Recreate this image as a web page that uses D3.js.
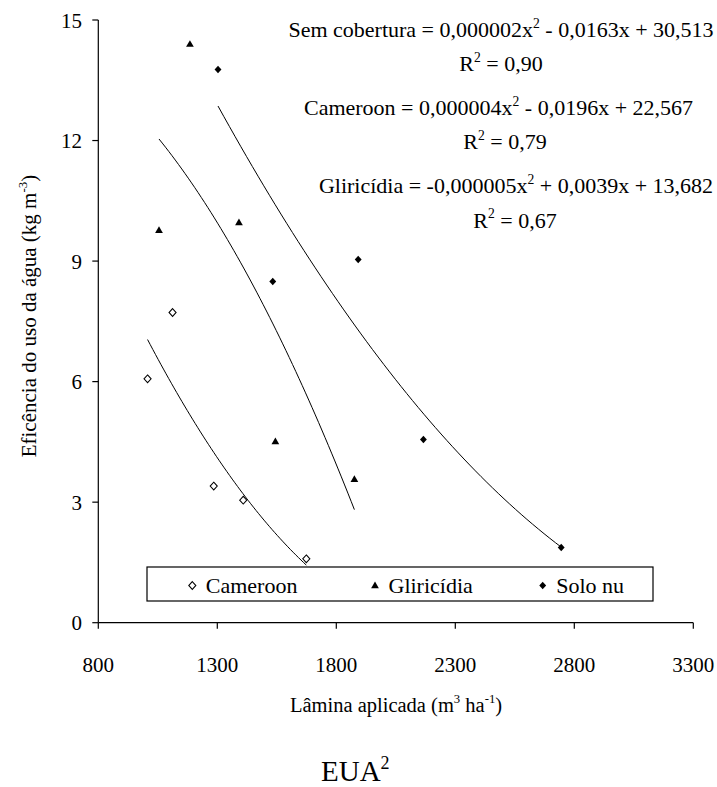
<!DOCTYPE html>
<html>
<head>
<meta charset="utf-8">
<script src="https://cdn.jsdelivr.net/npm/d3@7"></script>
<style>
  body { margin: 0; background: #fff; }
  svg { display: block; }
</style>
</head>
<body>
<div id="root"></div>
<script>
// axis ticks
const xTicks = [800, 1300, 1800, 2300, 2800, 3300];
const yTicks = [0, 3, 6, 9, 12, 15];

// series
const cameroonX = [1007, 1112, 1285, 1409, 1674];
const cameroonY = [6.07, 7.72, 3.40, 3.05, 1.59];
const gliricidiaX = [1055, 1185, 1391, 1544, 1876];
const gliricidiaY = [9.77, 14.40, 9.96, 4.51, 3.57];
const soloNuX = [1303, 1533, 1892, 2166, 2745];
const soloNuY = [13.77, 8.49, 9.04, 4.56, 1.87];

const legendNames = ["Cameroon", "Gliricídia", "Solo nu"];
const eqNames = ["Sem cobertura", "Cameroon", "Gliricídia"];
const eqTerms = [
  ["0,000002x", " - 0,0163x + 30,513"],
  ["0,000004x", " - 0,0196x + 22,567"],
  ["-0,000005x", " + 0,0039x + 13,682"],
];
const eqR2 = ["0,90", "0,79", "0,67"];

const width = 717, height = 787;
const FONT = '"Liberation Serif"';
const x = d3.scaleLinear().domain([800, 3300]).range([98.3, 693.3]);
const y = d3.scaleLinear().domain([0, 15]).range([622.7, 20]);

const svg = d3.create("svg").attr("width", width).attr("height", height);

// helper for text
const label = (g, tx, ty, size, anchor, rot = 0) =>
  g.append("text")
    .attr("transform", `translate(${tx},${ty})` + (rot ? ` rotate(${rot})` : ""))
    .style("font-family", FONT)
    .attr("font-size", size)
    .attr("fill", "#000")
    .attr("text-anchor", anchor);

const sup = (t, s, size) => {
  t.append("tspan").attr("dy", -size * 0.42).attr("font-size", size * 0.62).text(s);
  return t.append("tspan").attr("dy", size * 0.42);
};

// quadratic least squares (Excel trendline)
function polyfit2(xs, ys) {
  const u = xs.map((v) => v / 1000);
  const S = (f) => d3.sum(u, (v, i) => f(v, ys[i]));
  const A = [
    [u.length, S((v) => v), S((v) => v * v)],
    [S((v) => v), S((v) => v * v), S((v) => v ** 3)],
    [S((v) => v * v), S((v) => v ** 3), S((v) => v ** 4)],
  ];
  const b = [S((v, w) => w), S((v, w) => v * w), S((v, w) => v * v * w)];
  // gaussian elimination
  for (let i = 0; i < 3; i++) {
    for (let k = i + 1; k < 3; k++) {
      const f = A[k][i] / A[i][i];
      for (let j = i; j < 3; j++) A[k][j] -= f * A[i][j];
      b[k] -= f * b[i];
    }
  }
  const c = [0, 0, 0];
  for (let i = 2; i >= 0; i--) {
    let s = b[i];
    for (let j = i + 1; j < 3; j++) s -= A[i][j] * c[j];
    c[i] = s / A[i][i];
  }
  return (xv) => c[0] + c[1] * (xv / 1000) + c[2] * (xv / 1000) ** 2;
}

const line = d3.line().x((d) => x(d[0])).y((d) => y(d[1]));
[[cameroonX, cameroonY], [gliricidiaX, gliricidiaY], [soloNuX, soloNuY]].forEach(([xs, ys]) => {
  const f = polyfit2(xs, ys);
  const [lo, hi] = d3.extent(xs);
  const pts = d3.range(0, 61).map((i) => {
    const xv = lo + ((hi - lo) * i) / 60;
    return [xv, f(xv)];
  });
  svg.append("path").attr("d", line(pts)).attr("fill", "none")
    .attr("stroke", "#000").attr("stroke-width", 1);
});

// axes
const ax = svg.append("g").attr("stroke", "#000").attr("stroke-width", 1.2).attr("fill", "none");
ax.append("line").attr("x1", x(800)).attr("x2", x(800)).attr("y1", y(15)).attr("y2", y(0));
ax.append("line").attr("x1", x(800)).attr("x2", x(3300)).attr("y1", y(0)).attr("y2", y(0));
yTicks.forEach((t) => {
  ax.append("line").attr("x1", x(800) - 6).attr("x2", x(800)).attr("y1", y(t)).attr("y2", y(t));
  label(svg, 82, y(t) + 7.5, 21, "end").text(t);
});
xTicks.forEach((t) => {
  ax.append("line").attr("x1", x(t)).attr("x2", x(t)).attr("y1", y(0)).attr("y2", y(0) + 6);
  label(svg, x(t), 672, 21, "middle").text(t);
});

// markers
const diamond = d3.symbol().type(d3.symbolDiamond2);
const tri = d3.symbol().type(d3.symbolTriangle);
const drawOpenDiamond = (g, px, py) =>
  g.append("path").attr("d", d3.symbol().type(d3.symbolDiamond2).size(32)())
    .attr("transform", `translate(${px},${py}) scale(1,1.1)`)
    .attr("fill", "#fff").attr("stroke", "#000").attr("stroke-width", 1);
const drawFilledDiamond = (g, px, py) =>
  g.append("path").attr("d", diamond.size(30)())
    .attr("transform", `translate(${px},${py}) scale(1,1.1)`).attr("fill", "#000");
const drawTri = (g, px, py) =>
  g.append("path").attr("d", tri.size(26)())
    .attr("transform", `translate(${px},${py + 0.5})`).attr("fill", "#000");

cameroonX.forEach((v, i) => drawOpenDiamond(svg, x(v), y(cameroonY[i])));
gliricidiaX.forEach((v, i) => drawTri(svg, x(v), y(gliricidiaY[i])));
soloNuX.forEach((v, i) => drawFilledDiamond(svg, x(v), y(soloNuY[i])));

// legend
const lg = svg.append("g");
lg.append("rect").attr("x", 147).attr("y", 567).attr("width", 506).attr("height", 34)
  .attr("fill", "#fff").attr("stroke", "#000").attr("stroke-width", 1.2);
const legX = [192.3, 375, 542.7];
drawOpenDiamond(lg, legX[0], 585.5);
drawTri(lg, legX[1], 585.5);
drawFilledDiamond(lg, legX[2], 585.5);
legendNames.forEach((n, i) => label(lg, legX[i] + 13.5, 592.7, 22, "start").text(n));

// regression equations
const eqCx = [[501, 501], [498.5, 505], [516, 515]];
const eqBase = [[37.3, 71], [115, 149.3], [193.3, 227.7]];
eqNames.forEach((n, i) => {
  const t = label(svg, eqCx[i][0], eqBase[i][0], 22, "middle");
  t.append("tspan").text(`${n} = ${eqTerms[i][0]}`);
  sup(t, "2", 22).text(eqTerms[i][1]);
  const r = label(svg, eqCx[i][1], eqBase[i][1], 22, "middle");
  r.append("tspan").text("R");
  sup(r, "2", 22).text(` = ${eqR2[i]}`);
});

// axis titles
const xt = label(svg, 396, 712, 20.5, "middle");
xt.append("tspan").text("Lâmina aplicada (m");
sup(xt, "3", 20.5).text(" ha");
sup(xt, "-1", 20.5).text(")");

const yt = label(svg, 36, 316, 21, "middle", -90);
yt.append("tspan").text("Eficência do uso da água (kg m");
sup(yt, "-3", 21).text(")");

const ft = label(svg, 321, 781, 29, "start");
ft.append("tspan").text("EUA");
sup(ft, "2", 29);

d3.select("#root").append(() => svg.node());
</script>
</body>
</html>
